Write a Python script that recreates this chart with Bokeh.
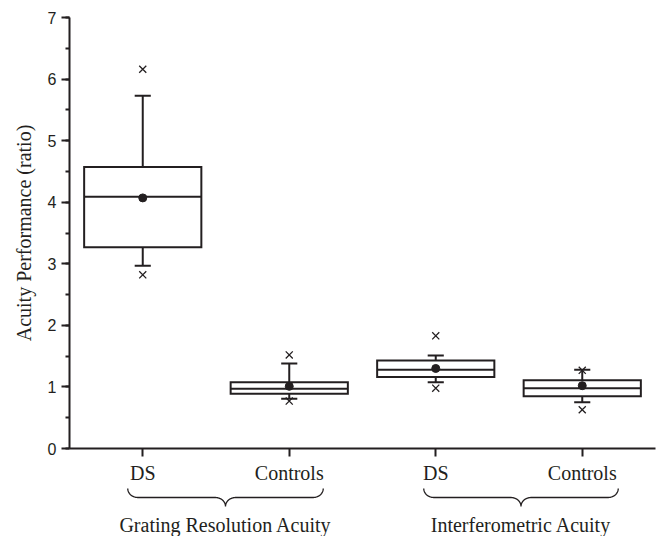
import numpy as np
from bokeh.plotting import figure
from bokeh.layouts import column
from bokeh.models import FixedTicker, SingleIntervalTicker, Range1d, ColumnDataSource
from bokeh.core.properties import value
from bokeh.embed import file_html
from bokeh.resources import INLINE

# ---- data ----
subjects = ["DS", "Controls", "DS", "Controls"]
groups = ["Grating Resolution Acuity", "Interferometric Acuity"]
q1 = [3.27, 0.89, 1.16, 0.85]
median = [4.09, 0.97, 1.28, 0.98]
q3 = [4.57, 1.075, 1.43, 1.11]
mean = [4.07, 1.01, 1.30, 1.02]
whisker_low = [2.97, 0.81, 1.075, 0.75]
whisker_high = [5.73, 1.38, 1.51, 1.28]
max_val = [6.16, 1.52, 1.83, 1.27]
min_val = [2.82, 0.77, 0.98, 0.63]

INK = "#231f20"
SERIF = "Liberation Serif"
SANS = "Liberation Sans"

W = 660
TOP_H = 486
BOT_H = 50
LEFT, RIGHT, TOP = 69, 5, 17
PLOT_H = 432

x_range = Range1d(0.5, 4.5)

p = figure(width=W, height=TOP_H, x_range=x_range, y_range=(0, 7),
           output_backend="svg", toolbar_location=None,
           min_border_left=LEFT, min_border_right=RIGHT, min_border_top=TOP,
           min_border_bottom=TOP_H - TOP - PLOT_H)
p.outline_line_color = None
p.xgrid.grid_line_color = None
p.ygrid.grid_line_color = None
p.background_fill_color = "white"
p.border_fill_color = "white"

xs = np.arange(1, len(subjects) + 1, dtype=float)
bw = 0.4
cw = 0.055

# boxes
p.quad(left=xs - bw, right=xs + bw, bottom=q1, top=q3, fill_color="white",
       line_color=INK, line_width=2, line_join="miter")
# median
p.segment(x0=xs - bw, x1=xs + bw, y0=median, y1=median, line_color=INK, line_width=2)
# whiskers
p.segment(x0=xs, x1=xs, y0=q3, y1=whisker_high, line_color=INK, line_width=2)
p.segment(x0=xs, x1=xs, y0=q1, y1=whisker_low, line_color=INK, line_width=2)
p.segment(x0=xs - cw, x1=xs + cw, y0=whisker_high, y1=whisker_high, line_color=INK, line_width=2)
p.segment(x0=xs - cw, x1=xs + cw, y0=whisker_low, y1=whisker_low, line_color=INK, line_width=2)
# mean
p.scatter(x=xs, y=mean, marker="circle", size=8, fill_color=INK, line_color=INK)
# min / max
p.scatter(x=xs, y=max_val, marker="x", size=10, line_color=INK, line_width=1.3)
p.scatter(x=xs, y=min_val, marker="x", size=10, line_color=INK, line_width=1.3)

# axes
for ax in (p.xaxis[0], p.yaxis[0]):
    ax.axis_line_color = INK
    ax.axis_line_width = 2
    ax.major_tick_line_color = INK
    ax.major_tick_line_width = 2
    ax.major_tick_in = 0
    ax.major_tick_out = 8
    ax.major_label_text_color = INK

p.yaxis.ticker = SingleIntervalTicker(interval=1, num_minor_ticks=2)
p.yaxis.minor_tick_line_color = INK
p.yaxis.minor_tick_line_width = 2
p.yaxis.minor_tick_in = 0
p.yaxis.minor_tick_out = 4
p.yaxis.major_label_text_font = SANS
p.yaxis.major_label_text_font_size = "16px"
p.yaxis.major_label_standoff = 5
p.yaxis.axis_label = "Acuity Performance (ratio)"
p.yaxis.axis_label_text_font = SERIF
p.yaxis.axis_label_text_font_size = "20px"
p.yaxis.axis_label_text_font_style = "normal"
p.yaxis.axis_label_text_color = INK
p.yaxis.axis_label_standoff = 10

p.xaxis.ticker = FixedTicker(ticks=list(xs))
p.xaxis.major_label_overrides = {float(x): s for x, s in zip(xs, subjects)}
p.xaxis.minor_tick_line_color = None
p.xaxis.major_label_text_font = SERIF
p.xaxis.major_label_text_font_size = "20px"
p.xaxis.major_label_standoff = 5

# ---- braces and group labels (strip below, y in screen pixels downward) ----
q = figure(width=W, height=BOT_H, x_range=x_range, y_range=Range1d(TOP_H + BOT_H, TOP_H),
           output_backend="svg", toolbar_location=None,
           x_axis_type=None, y_axis_type=None,
           min_border_left=LEFT, min_border_right=RIGHT, min_border_top=0, min_border_bottom=0)
q.outline_line_color = None
q.xgrid.grid_line_color = None
q.ygrid.grid_line_color = None
q.background_fill_color = "white"
q.border_fill_color = "white"

px_x = (x_range.end - x_range.start) / (W - LEFT - RIGHT)


def brace(xl, xr, y_top, y_flat, y_tip, rx):
    c = (xl + xr) / 2
    t = np.linspace(0, np.pi / 2, 14)
    xa = xl + rx * (1 - np.cos(t)); ya = y_top + (y_flat - y_top) * np.sin(t)
    xb = c - rx + rx * np.sin(t); yb = y_flat + (y_tip - y_flat) * (1 - np.cos(t))
    xc = c + rx * (1 - np.cos(t)); yc = y_tip + (y_flat - y_tip) * np.sin(t)
    xd = xr - rx + rx * np.sin(t); yd = y_flat + (y_top - y_flat) * (1 - np.cos(t))
    return (list(np.concatenate([xa, xb, xc, xd])), list(np.concatenate([ya, yb, yc, yd])))


spans = [(xs[0] - 15 * px_x, xs[1] + 34 * px_x), (xs[2] - 12 * px_x, xs[3] + 36 * px_x)]
bxs, bys = [], []
for xl, xr in spans:
    bx, by = brace(xl, xr, 488, 497, 506, 10 * px_x)
    bxs.append(bx); bys.append(by)
q.multi_line(xs=bxs, ys=bys, line_color=INK, line_width=1.3)

lab = ColumnDataSource(dict(x=[(a + b) / 2 for a, b in spans], y=[524] * len(groups), text=groups))
q.text(x="x", y="y", text="text", source=lab, text_align="center", text_baseline="middle",
       text_font=value(SERIF), text_font_size="20px", text_color=INK)

layout = column(p, q, spacing=0)
open("out.html", "w").write(file_html(layout, INLINE))
